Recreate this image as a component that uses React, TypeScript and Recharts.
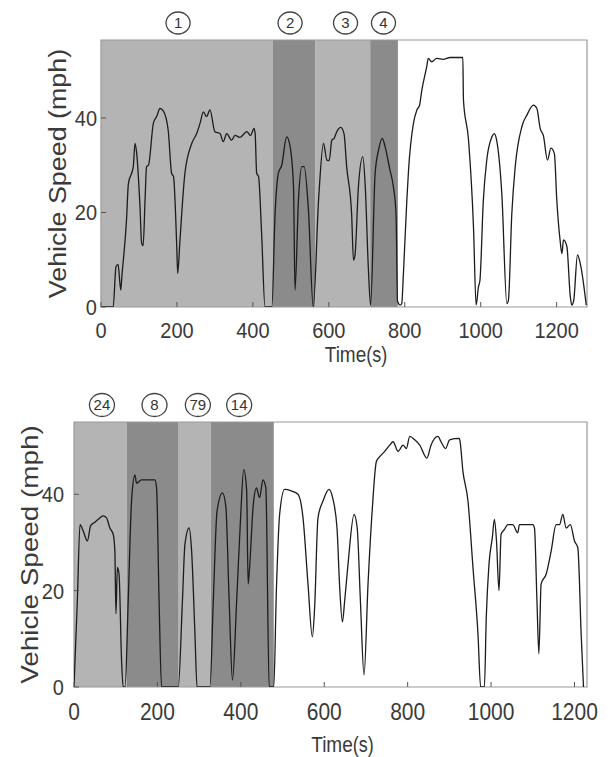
import { LineChart, Line, XAxis, YAxis, ReferenceArea, ReferenceDot } from "recharts";

// upper trace: time (s) and vehicle speed (mph)
const topTime = [
  0, 32, 39.5, 45, 52, 55, 67.6, 72, 85, 89.6, 94, 102.8, 107, 111, 116, 120, 125, 138, 146.6, 155.5,
  164, 177, 186, 191, 199.5, 202, 208, 221, 239, 252, 261, 269.6, 278, 287, 300, 313.5, 322, 331, 344,
  353, 366, 384, 394, 403, 406, 410, 415, 423, 432, 450, 458.5, 467, 476, 489, 498, 507, 511, 520, 529,
  535, 546, 559, 573, 586, 595, 601, 608, 614, 621, 631.5, 640, 647, 660, 665, 669, 678, 689.5, 696,
  704, 710, 722, 731, 741, 748, 761, 770, 777, 781, 788, 792, 796.5, 805.5, 810, 823, 832, 839, 845,
  858, 862, 871, 884, 901, 919.5, 953, 954.6, 968, 981, 988, 994, 998, 1007, 1016, 1029.5, 1036, 1042,
  1055.6, 1069, 1073, 1082, 1091, 1108.6, 1121.6, 1139, 1148, 1156.7, 1165, 1176, 1185, 1194, 1200.5,
  1209, 1214, 1218, 1227, 1236, 1240, 1245, 1255, 1264, 1278,
];
const topSpeed = [
  0, 0, 8.5, 9, 3.6, 6.5, 19, 26, 29.7, 34.6, 32.5, 21, 13.5, 13, 22.6, 29.7, 30, 38.9, 40.3, 42,
  41.5, 37.4, 28.3, 27.6, 12.8, 7.1, 14.2, 28.3, 34.6, 36.7, 38.9, 41.3, 40.3, 41.7, 37.1, 36.7, 35, 36.7, 35.3,
  36.3, 35.9, 37.1, 36.3, 37.8, 36.7, 28.3, 27.6, 15.6, 0, 0, 19.8, 28.3, 30, 36, 34, 25.5, 3.6, 22.6, 29.7,
  29.7, 21, 0, 22.6, 34.6, 31.1, 31, 35.3, 35.7, 37.1, 38, 36.7, 29.7, 19.8, 9.9, 11, 25.5, 31.8, 25.5,
  8.5, 0.4, 28.3, 33.2, 35.7, 34, 29, 25.5, 19.8, 1.2, 0.4, 0.7, 7.1, 22.6, 29, 38.9, 41.7, 42.7, 45.9,
  50.9, 52.6, 51.9, 52.6, 52.4, 52.8, 52.8, 43.8, 35.3, 17, 0.4, 4.2, 5.6, 22.6, 31.1, 36, 36.7, 35.3,
  24, 0.7, 1.4, 19.8, 29.7, 38.2, 40.6, 42.7, 42, 37.8, 36.3, 31.1, 33.6, 32.5, 22.6,
  14.2, 11.3, 14.2, 12.8, 2.2, 0.4, 1.4, 11, 8.5, 0.4,
];
const topBandStart = [0, 453, 564, 709];
const topBandEnd = [453, 564, 709, 782];
const topMarkTime = [203, 498, 644, 744];
const topMarkText = ["1", "2", "3", "4"];

// lower trace
const bottomTime = [
  0, 8, 14.4, 22, 32, 40, 50, 58, 70, 78, 86, 94, 98, 100.6, 104, 108, 114, 118, 122.5, 130, 138, 146,
  150, 162, 178, 194, 198, 204, 210, 250, 260, 266, 276, 282, 290, 295, 326, 334, 343, 356, 364, 372,
  380, 390, 399, 407, 414, 417.5, 421, 429.5, 437.5, 445, 453, 460, 468, 479, 485, 493, 505, 521, 537,
  549, 561, 571.5, 577, 585, 597, 611.5, 620, 630.6, 637, 643.6, 649, 657, 671.5, 679, 686.7, 695.4,
  705, 715.4, 725, 733, 745, 757, 765, 777, 789, 797, 805, 817, 829, 846, 856, 872.6, 880, 891, 900.6,
  923, 925, 932.6, 944.6, 956.6, 968.6, 975, 984, 988.5, 995, 1003, 1008, 1013, 1019, 1024, 1032, 1040,
  1052, 1064, 1068, 1080, 1100, 1104, 1110, 1114.6, 1120, 1132, 1144, 1156, 1164, 1172, 1180, 1190,
  1200, 1208, 1216, 1221.6,
];
const bottomSpeed = [
  0, 17.9, 33.7, 32.4, 30.3, 33.5, 34.2, 34.8, 35.5, 35.1, 33, 31.7, 28.2, 15.2, 24.8, 23.4, 5.6, 0, 0, 17.9, 38.6, 44,
  42.3, 43, 43, 43, 41.3, 17.9, 0, 0, 17.9, 29.6, 33, 28.2, 11, 0, 0, 17.9, 36.5, 40.3, 37.5, 17.9,
  1.4, 17.9, 34.4, 45.1, 40.7, 21.4, 24.8, 37.5, 41.3, 39.3, 43, 41.3, 0, 0, 19.3, 35.8, 41, 40.7, 40,
  35.2, 21.4, 10.4, 16.6, 35.1, 38.6, 41, 39.3, 33, 20.7, 13.5, 17.9, 25.5, 35.8, 33, 17.9, 2.5,
  21.4, 37.2, 46.8, 47.8, 48.9, 50.2, 50.9, 48.9, 50.2, 49.5, 52, 51.3, 50.2, 47.5, 50.2, 52, 50.9, 49.5, 51.3,
  51.6, 51.3, 44.7, 38.6, 24.8, 11, 0, 0, 14.5, 25.5, 31, 34.8, 30.3, 20, 31.7, 32.7, 33.7,
  33.7, 32, 33.7, 33.7, 33.7, 33, 17.9, 6.9, 21.4, 23.4, 28.2, 33.7, 33.7, 35.8, 33, 33.7,
  30.3, 28.9, 11, 0,
];
const bottomBandStart = [0, 127, 251, 328];
const bottomBandEnd = [127, 251, 328, 479];
const bottomMarkTime = [67, 193, 297, 396];
const bottomMarkText = ["24", "8", "79", "14"];

const xTicks = [0, 200, 400, 600, 800, 1000, 1200];
const yTicks = [0, 20, 40];

const FONT = "'Liberation Sans', Arial, sans-serif";
const LIGHT = "#b4b4b4";
const DARK = "#8b8b8b";
const FRAME = "#999999";
const INK = "#3a3a3a";

type PanelProps = {
  times: number[];
  speeds: number[];
  bandStart: number[];
  bandEnd: number[];
  markTime: number[];
  markText: string[];
  xMax: number;
  yMax: number;
  height: number;
  marginTop: number;
  yAxisWidth: number;
  xAxisHeight: number;
  xTickFont: number;
  xTickGap: number;
  yTickMargin: number;
  yLabelX: number;
  yLabelStretch: number;
  timeY: number;
  markR: number;
  markFont: number;
};

const tickStyle = { stroke: "#555", strokeWidth: 1 };

function Panel(p: PanelProps) {
  const data = p.times.map((t, i) => ({ t, v: p.speeds[i] }));

  const xTick = (props: any) => (
    <g transform={`translate(${props.x},${props.y + p.xTickGap}) scale(1,1.12)`}>
      <text x={0} y={0} textAnchor="middle" fontSize={p.xTickFont} fill={INK} fontFamily={FONT}>
        {props.payload.value}
      </text>
    </g>
  );
  const yTick = (props: any) => (
    <g transform={`translate(${props.x},${props.y + 8}) scale(1,1.12)`}>
      <text x={0} y={0} textAnchor="end" fontSize={20} fill={INK} fontFamily={FONT}>
        {props.payload.value}
      </text>
    </g>
  );
  const yLabel = (props: any) => {
    const vb = props.viewBox;
    return (
      <g transform={`translate(${vb.x + p.yLabelX},${vb.y + vb.height / 2}) rotate(-90) scale(${p.yLabelStretch},1)`}>
        <text x={0} y={8} textAnchor="middle" fontSize={24} fill={INK} fontFamily={FONT}>
          Vehicle Speed (mph)
        </text>
      </g>
    );
  };
  const xLabel = (props: any) => {
    const vb = props.viewBox;
    return (
      <g transform={`translate(${vb.x + vb.width / 2 + 12},${vb.y + p.timeY}) scale(1,1.2)`}>
        <text x={0} y={0} textAnchor="middle" fontSize={19} fill={INK} fontFamily={FONT}>
          Time<tspan fontSize={18}>(s)</tspan>
        </text>
      </g>
    );
  };
  const mark = (text: string) => (props: any) => (
    <g>
      <ellipse cx={props.cx} cy={props.cy - 17} rx={p.markR} ry={p.markR - 1} fill="#fff" stroke="#444" strokeWidth={1.3} />
      <text x={props.cx} y={props.cy - 17 + p.markFont * 0.36} textAnchor="middle" fontSize={p.markFont} fill="#333" fontFamily={FONT}>
        {text}
      </text>
    </g>
  );

  return (
    <LineChart
      width={611}
      height={p.height}
      data={data}
      margin={{ top: p.marginTop, right: 24, bottom: 0, left: 0 }}
    >
      {p.bandStart.map((s, i) => (
        <ReferenceArea
          key={`band-${i}`}
          x1={s}
          x2={p.bandEnd[i]}
          fill={i % 2 === 0 ? LIGHT : DARK}
          fillOpacity={1}
          stroke="none"
        />
      ))}
      {/* plot frame */}
      <ReferenceArea x1={0} x2={p.xMax} y1={0} y2={p.yMax} fill="none" stroke={FRAME} strokeWidth={1.2} />
      <XAxis
        dataKey="t"
        type="number"
        domain={[0, p.xMax]}
        ticks={xTicks}
        allowDataOverflow
        height={p.xAxisHeight}
        axisLine={false}
        tickLine={tickStyle}
        tickSize={-5}
        tickMargin={5}
        tick={xTick}
        label={{ content: xLabel }}
      />
      <XAxis
        xAxisId="top"
        orientation="top"
        type="number"
        domain={[0, p.xMax]}
        ticks={xTicks}
        allowDataOverflow
        height={0}
        axisLine={false}
        tickLine={tickStyle}
        tickSize={-5}
        tick={false}
      />
      <YAxis
        type="number"
        domain={[0, p.yMax]}
        ticks={yTicks}
        allowDataOverflow
        width={p.yAxisWidth}
        axisLine={false}
        tickLine={tickStyle}
        tickSize={-5}
        tickMargin={p.yTickMargin}
        tick={yTick}
        label={{ content: yLabel }}
      />
      <YAxis
        yAxisId="right"
        orientation="right"
        type="number"
        domain={[0, p.yMax]}
        ticks={yTicks}
        allowDataOverflow
        width={0}
        axisLine={false}
        tickLine={tickStyle}
        tickSize={-5}
        tick={false}
      />
      <Line
        type="monotone"
        dataKey="v"
        stroke="#1c1c1c"
        strokeWidth={1.3}
        dot={false}
        isAnimationActive={false}
      />
      {p.markTime.map((t, i) => (
        <ReferenceDot
          key={`mark-${i}`}
          x={t}
          y={p.yMax}
          ifOverflow="visible"
          shape={mark(p.markText[i])}
        />
      ))}
    </LineChart>
  );
}

export default function App() {
  return (
    <div style={{ position: "absolute", left: 0, top: 0, width: 611, height: 757, background: "#fff" }}>
      <div style={{ position: "absolute", left: 0, top: 0 }}>
        <Panel
          times={topTime}
          speeds={topSpeed}
          bandStart={topBandStart}
          bandEnd={topBandEnd}
          markTime={topMarkTime}
          markText={topMarkText}
          xMax={1280}
          yMax={56.5}
          height={380}
          marginTop={40}
          yAxisWidth={101}
          xAxisHeight={73}
          xTickFont={20}
          xTickGap={31}
          yTickMargin={9}
          yLabelX={58}
          yLabelStretch={1.12}
          timeY={55}
          markR={12}
          markFont={15}
        />
      </div>
      <div style={{ position: "absolute", left: 0, top: 380 }}>
        <Panel
          times={bottomTime}
          speeds={bottomSpeed}
          bandStart={bottomBandStart}
          bandEnd={bottomBandEnd}
          markTime={bottomMarkTime}
          markText={bottomMarkText}
          xMax={1230}
          yMax={55}
          height={377}
          marginTop={42}
          yAxisWidth={74}
          xAxisHeight={70}
          xTickFont={21}
          xTickGap={33}
          yTickMargin={15}
          yLabelX={30}
          yLabelStretch={1.16}
          timeY={65}
          markR={12.5}
          markFont={15}
        />
      </div>
    </div>
  );
}
